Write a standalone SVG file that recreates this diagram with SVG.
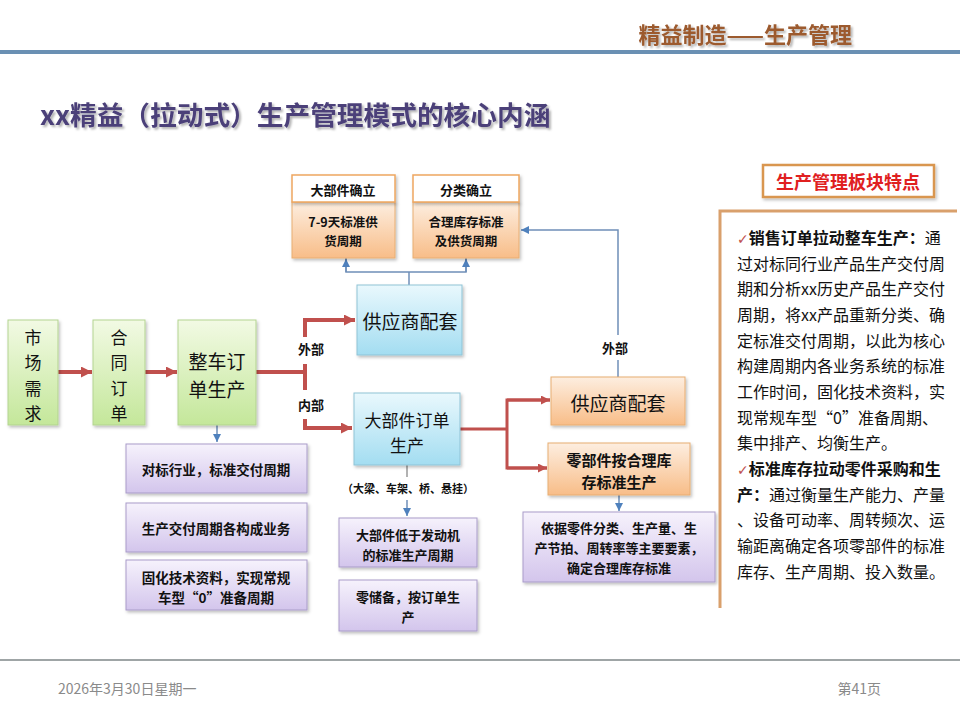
<svg xmlns="http://www.w3.org/2000/svg" width="960" height="720" viewBox="0 0 960 720">
<defs>
  <linearGradient id="gGreen" x1="0" y1="0" x2="0" y2="1"><stop offset="0" stop-color="#f2fae4"/><stop offset="1" stop-color="#c4e79a"/></linearGradient>
  <linearGradient id="gBlue" x1="0" y1="0" x2="0" y2="1"><stop offset="0" stop-color="#e9f8fd"/><stop offset="1" stop-color="#a3ddf1"/></linearGradient>
  <linearGradient id="gOrange" x1="0" y1="0" x2="0" y2="1"><stop offset="0" stop-color="#fdeee0"/><stop offset="1" stop-color="#f8bd88"/></linearGradient>
  <linearGradient id="gPurple" x1="0" y1="0" x2="0" y2="1"><stop offset="0" stop-color="#f6f2fc"/><stop offset="1" stop-color="#d3c5ec"/></linearGradient>
  <filter id="sh" x="-10%" y="-10%" width="130%" height="130%"><feDropShadow dx="1.5" dy="2" stdDeviation="1.5" flood-color="#000" flood-opacity="0.25"/></filter>
  <filter id="tsh" x="-5%" y="-20%" width="110%" height="150%"><feDropShadow dx="2" dy="2" stdDeviation="1.2" flood-color="#000" flood-opacity="0.3"/></filter>
  <marker id="aRed" viewBox="0 0 10 10" refX="10" refY="5" markerWidth="11" markerHeight="11" markerUnits="userSpaceOnUse" orient="auto"><path d="M0,0 L10,5 L0,10 z" fill="#c0504d"/></marker>
  <marker id="aRedS" viewBox="0 0 10 10" refX="10" refY="5" markerWidth="9" markerHeight="9" markerUnits="userSpaceOnUse" orient="auto"><path d="M0,0 L10,5 L0,10 z" fill="#c0504d"/></marker>
  <marker id="aBlue" viewBox="0 0 10 10" refX="10" refY="5" markerWidth="8" markerHeight="8" markerUnits="userSpaceOnUse" orient="auto"><path d="M0,0 L10,5 L0,10 z" fill="#4f81bd"/></marker>
  <style>
    text{font-family:"Noto Sans CJK SC","Liberation Sans",sans-serif;}
    .green{fill:url(#gGreen);stroke:#b3d391;stroke-width:1;filter:url(#sh);}
    .blue{fill:url(#gBlue);stroke:#8fc3d6;stroke-width:1;filter:url(#sh);}
    .orange{fill:url(#gOrange);stroke:#e8ad72;stroke-width:1;filter:url(#sh);}
    .hdr{fill:#ffffff;stroke:#eea760;stroke-width:1.5;filter:url(#sh);}
    .purple{fill:url(#gPurple);stroke:#a99cc9;stroke-width:1;filter:url(#sh);}
    .t{fill:#111;text-anchor:middle;dominant-baseline:central;}
    .b{font-weight:bold;}
    .red{stroke:#c0504d;stroke-width:4;fill:none;}
    .redt{stroke:#c0504d;stroke-width:3;fill:none;}
    .bl{stroke:#6f8fb8;stroke-width:1.5;fill:none;}
    .side{fill:#111;font-size:16px;}
  </style>
</defs>
<rect width="960" height="720" fill="#ffffff"/>

<!-- header -->
<g id="header">
  <text x="852" y="33" text-anchor="end" dominant-baseline="central" font-size="22" font-weight="bold" fill="#9c5a2e" filter="url(#tsh)">精益制造——生产管理</text>
  <rect x="0" y="50" width="960" height="4" fill="#6a90b3"/>
  <text x="40" y="113" dominant-baseline="central" font-size="26.7" font-weight="bold" fill="#4b4079" filter="url(#tsh)">xx精益（拉动式）生产管理模式的核心内涵</text>
</g>

<!-- connectors -->
<g id="connectors">
  <line class="red" x1="58" y1="372" x2="92" y2="372" marker-end="url(#aRed)"/>
  <line class="red" x1="145" y1="372" x2="177" y2="372" marker-end="url(#aRed)"/>
  <line class="red" x1="256" y1="372" x2="305" y2="372"/>
  <line class="red" x1="305" y1="364" x2="305" y2="390"/>
  <polyline class="red" points="305,337 305,320 355,320" marker-end="url(#aRed)"/>
  <polyline class="red" points="305,419 305,428 352,428" marker-end="url(#aRed)"/>
  <polyline class="redt" points="460,429 507,429"/>
  <polyline class="redt" points="550,400 507,400 507,468 547,468"/>
  <line class="redt" x1="507" y1="400" x2="550" y2="400" marker-end="url(#aRedS)"/>
  <line class="redt" x1="507" y1="468" x2="547" y2="468" marker-end="url(#aRedS)"/>
  <!-- blue -->
  <line class="bl" x1="409" y1="285" x2="409" y2="272"/>
  <polyline class="bl" points="346,258 346,272 466,272 466,258"/>
  <line class="bl" x1="346" y1="272" x2="346" y2="259" marker-end="url(#aBlue)"/>
  <line class="bl" x1="466" y1="272" x2="466" y2="259" marker-end="url(#aBlue)"/>
  <polyline class="bl" points="618,377 618,360"/>
  <polyline class="bl" points="618,335 618,230 521,230" marker-end="url(#aBlue)"/>
  <line class="bl" x1="217" y1="425" x2="217" y2="442" marker-end="url(#aBlue)"/>
  <line x1="407" y1="465" x2="407" y2="477" stroke="#7f7f7f" stroke-width="1.2"/>
  <line class="bl" x1="407" y1="500" x2="407" y2="516" marker-end="url(#aBlue)"/>
  <line class="bl" x1="619" y1="495" x2="619" y2="511" marker-end="url(#aBlue)"/>
  <text x="311" y="348" class="t b" font-size="13">外部</text>
  <text x="311" y="404" class="t b" font-size="13">内部</text>
  <text x="615" y="347" class="t b" font-size="13">外部</text>
</g>

<!-- nodes -->
<g id="market">
  <rect class="green" x="8" y="320" width="50" height="105"/>
  <text class="t" x="33" y="336" font-size="17">市</text>
  <text class="t" x="33" y="361" font-size="17">场</text>
  <text class="t" x="33" y="387" font-size="17">需</text>
  <text class="t" x="33" y="412" font-size="17">求</text>
</g>
<g id="contract">
  <rect class="green" x="93" y="320" width="52" height="105"/>
  <text class="t" x="119" y="336" font-size="17">合</text>
  <text class="t" x="119" y="361" font-size="17">同</text>
  <text class="t" x="119" y="387" font-size="17">订</text>
  <text class="t" x="119" y="412" font-size="17">单</text>
</g>
<g id="vehicle">
  <rect class="green" x="178" y="320" width="78" height="105"/>
  <text class="t" x="217" y="360" font-size="19">整车订</text>
  <text class="t" x="217" y="388" font-size="19">单生产</text>
</g>
<g id="supplier1">
  <rect class="blue" x="357" y="285" width="105" height="70"/>
  <text class="t" x="410" y="320" font-size="19">供应商配套</text>
</g>
<g id="bigpart">
  <rect class="blue" x="354" y="393" width="106" height="72"/>
  <text class="t" x="407" y="419" font-size="17">大部件订单</text>
  <text class="t" x="407" y="444" font-size="17">生产</text>
</g>
<g id="top1">
  <rect class="orange" x="292" y="202" width="103" height="56"/>
  <rect class="hdr" x="292" y="175" width="103" height="27"/>
  <text class="t b" x="343" y="189" font-size="13">大部件确立</text>
  <text class="t b" x="343" y="221" font-size="12.5">7-9天标准供</text>
  <text class="t b" x="343" y="240" font-size="12.5">货周期</text>
</g>
<g id="top2">
  <rect class="orange" x="413" y="202" width="106" height="56"/>
  <rect class="hdr" x="413" y="175" width="106" height="27"/>
  <text class="t b" x="466" y="189" font-size="13">分类确立</text>
  <text class="t b" x="466" y="221" font-size="12.5">合理库存标准</text>
  <text class="t b" x="466" y="240" font-size="12.5">及供货周期</text>
</g>
<g id="supplier2">
  <rect class="orange" x="551" y="377" width="134" height="48"/>
  <text class="t" x="618" y="402" font-size="19">供应商配套</text>
</g>
<g id="parts">
  <rect class="orange" x="548" y="443" width="142" height="52"/>
  <text class="t b" x="619" y="459" font-size="15">零部件按合理库</text>
  <text class="t b" x="619" y="481" font-size="15">存标准生产</text>
</g>
<g id="p1">
  <rect class="purple" x="126" y="444" width="181" height="49"/>
  <text class="t b" x="216" y="469" font-size="13.5">对标行业，标准交付周期</text>
</g>
<g id="p2">
  <rect class="purple" x="126" y="503" width="181" height="49"/>
  <text class="t b" x="216" y="528" font-size="13.5">生产交付周期各构成业务</text>
</g>
<g id="p3">
  <rect class="purple" x="126" y="560" width="181" height="50"/>
  <text class="t b" x="216" y="577" font-size="13.5">固化技术资料，实现常规</text>
  <text class="t b" x="216" y="597" font-size="13.5">车型“0”准备周期</text>
</g>
<g id="bignote">
  <text class="t b" x="408" y="488" font-size="11">（大梁、车架、桥、悬挂）</text>
</g>
<g id="p4">
  <rect class="purple" x="339" y="518" width="138" height="49"/>
  <text class="t b" x="408" y="534" font-size="13">大部件低于发动机</text>
  <text class="t b" x="408" y="554" font-size="13">的标准生产周期</text>
</g>
<g id="p5">
  <rect class="purple" x="339" y="580" width="138" height="51"/>
  <text class="t b" x="408" y="596" font-size="13">零储备，按订单生</text>
  <text class="t b" x="408" y="616" font-size="13">产</text>
</g>
<g id="p6">
  <rect class="purple" x="523" y="512" width="192" height="70"/>
  <text class="t b" x="619" y="527" font-size="13">依据零件分类、生产量、生</text>
  <text class="t b" x="619" y="547" font-size="13">产节拍、周转率等主要要素，</text>
  <text class="t b" x="619" y="567" font-size="13">确定合理库存标准</text>
</g>

<!-- side panel -->
<g id="sidepanel">
  <rect x="763" y="165" width="171" height="32" fill="#fff" stroke="#d99650" stroke-width="2.5" filter="url(#sh)"/>
  <text x="848" y="181" text-anchor="middle" dominant-baseline="central" font-size="18" font-weight="bold" fill="#e0201f">生产管理板块特点</text>
  <polyline points="720,608 720,211 957,211" fill="none" stroke="#d9a06c" stroke-width="3"/>
  <text class="side" x="737" y="244"><tspan fill="#c0504d" font-family="DejaVu Sans" font-size="14">✓</tspan><tspan font-weight="bold">销售订单拉动整车生产：</tspan>通</text>
  <text class="side" x="737" y="270">过对标同行业产品生产交付周</text>
  <text class="side" x="737" y="295">期和分析xx历史产品生产交付</text>
  <text class="side" x="737" y="321">周期，将xx产品重新分类、确</text>
  <text class="side" x="737" y="347">定标准交付周期，以此为核心</text>
  <text class="side" x="737" y="372">构建周期内各业务系统的标准</text>
  <text class="side" x="737" y="398">工作时间，固化技术资料，实</text>
  <text class="side" x="737" y="424">现常规车型“0”准备周期、</text>
  <text class="side" x="737" y="449">集中排产、均衡生产。</text>
  <text class="side" x="737" y="475"><tspan fill="#c0504d" font-family="DejaVu Sans" font-size="14">✓</tspan><tspan font-weight="bold">标准库存拉动零件采购和生</tspan></text>
  <text class="side" x="737" y="501"><tspan font-weight="bold">产：</tspan>通过衡量生产能力、产量</text>
  <text class="side" x="737" y="526">、设备可动率、周转频次、运</text>
  <text class="side" x="737" y="552">输距离确定各项零部件的标准</text>
  <text class="side" x="737" y="578">库存、生产周期、投入数量。</text>
</g>

<!-- footer -->
<g id="footer">
  <line x1="0" y1="660" x2="960" y2="660" stroke="#7f8789" stroke-width="1.5"/>
  <text x="58" y="688" dominant-baseline="central" font-size="14" fill="#8a8a8a">2026年3月30日星期一</text>
  <text x="881" y="688" text-anchor="end" dominant-baseline="central" font-size="14" fill="#8a8a8a">第41页</text>
</g>
</svg>
